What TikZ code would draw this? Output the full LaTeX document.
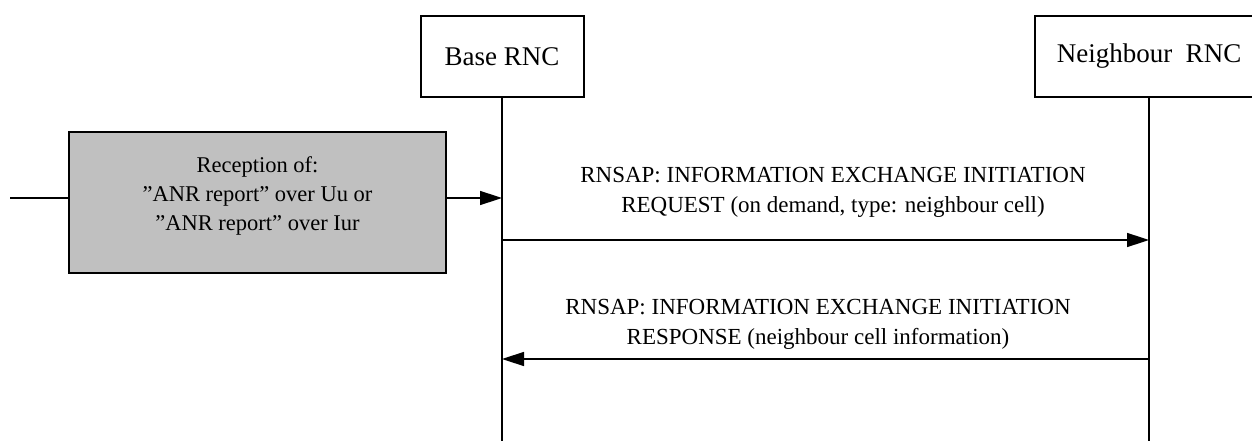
\documentclass[tikz,border=0pt]{standalone}
\usepackage{fontspec}
\setmainfont{Liberation Serif}
\usetikzlibrary{arrows.meta}
\begin{document}
\begin{tikzpicture}[x=1pt,y=-1pt,
  entity/.style={draw, line width=2pt, fill=white, inner sep=0pt, font=\fontsize{27}{32}\selectfont},
  lifeline/.style={line width=2pt},
  msg/.style={line width=1.5pt, -{Triangle[length=22pt,width=14pt]}},
  plain/.style={line width=1.5pt},
  lbl/.style={align=center, inner sep=0pt, font=\fontsize{23}{30}\selectfont},
  graybox/.style={draw, line width=1.5pt, fill=gray75, inner sep=0pt}]
\definecolor{gray75}{HTML}{C0C0C0}
\useasboundingbox (0,0) rectangle (1252,441);
\clip (0,0) rectangle (1252,441);
\node[entity, minimum width=163pt, minimum height=81pt] (base) at (502,56.5) {Base RNC};
\node[entity, minimum width=228pt, minimum height=81pt] (nb) at (1149,56.5) {Neighbour~~RNC};
\coordinate (baseend) at (502,441);
\coordinate (nbend) at (1149,441);
\draw[lifeline] (base.south) -- (baseend);
\draw[lifeline] (nb.south) -- (nbend);
\node[graybox, minimum width=377pt, minimum height=141pt] (rec) at (257.5,202.5) {};
\node[lbl, font=\fontsize{22.5}{29}\selectfont] (rectxt) at (257.5,196) {Reception of:\\"ANR report" over Uu or\\"ANR report" over Iur};
\coordinate (inL) at (10,198);
\coordinate (b1) at (502,198);
\draw[plain] (inL) -- (rec.west |- inL);
\draw[msg] (rec.east |- b1) -- (b1);
\coordinate (b2) at (502,240);
\coordinate (n2) at (1149,240);
\draw[msg] (b2) -- (n2);
\node[lbl] (reqtxt) at (833,192) {RNSAP: INFORMATION EXCHANGE INITIATION\\REQUEST (on demand, type: neighbour cell)};
\coordinate (b3) at (502,359);
\coordinate (n3) at (1149,359);
\draw[msg] (n3) -- (b3);
\node[lbl] (restxt) at (818,324) {RNSAP: INFORMATION EXCHANGE INITIATION\\RESPONSE (neighbour cell information)};
\end{tikzpicture}
\end{document}
